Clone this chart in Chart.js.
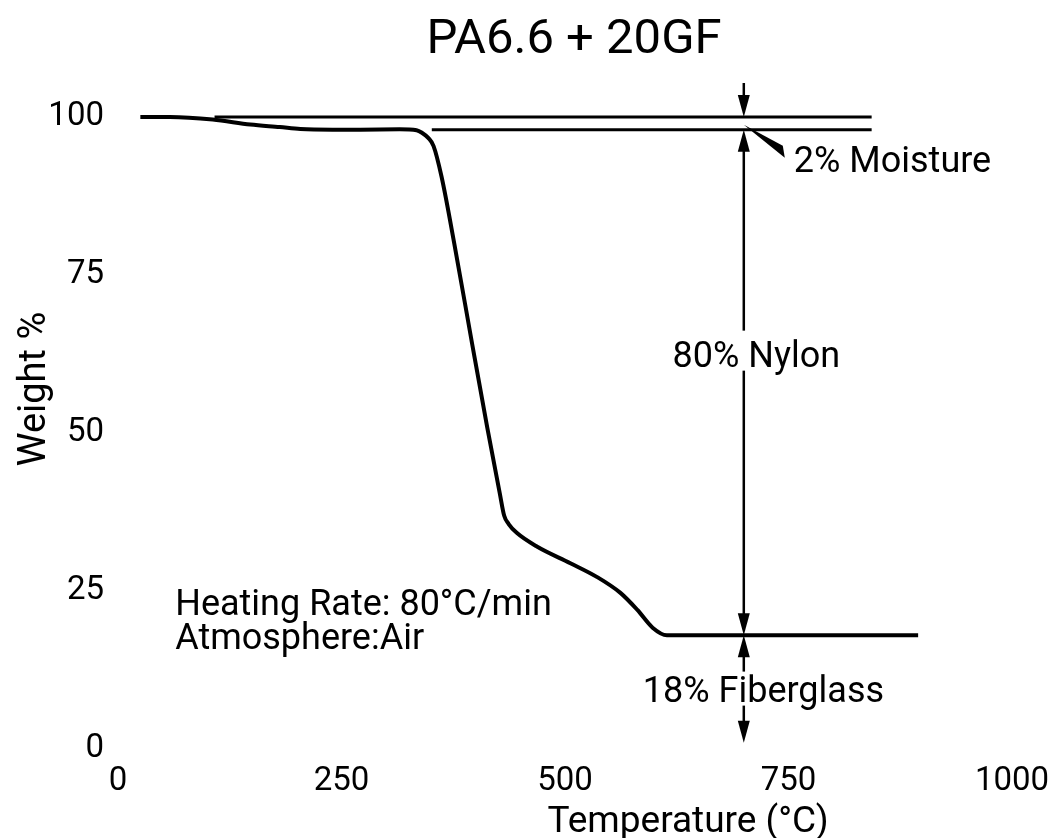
<!DOCTYPE html>
<html>
<head>
<meta charset="utf-8">
<script src="https://cdn.jsdelivr.net/npm/chart.js@4.4.0/dist/chart.umd.min.js"></script>
<style>
  html, body { margin: 0; padding: 0; background: #fff; }
</style>
</head>
<body>
<canvas id="chart" width="1050" height="838"></canvas>
<script>
// TGA trace of PA6.6 with 20% glass fibre, heated in air
let temperature = [25, 58, 106, 148, 181, 204, 240, 271, 315, 334, 340, 347, 353, 362, 376, 396, 413, 427, 432, 437, 446, 469, 506, 536, 562, 581, 598, 614, 895];
let weight = [100, 100, 99.6, 98.8, 98.4, 98.1, 98.0, 98.0, 98.05, 97.9, 97.5, 96.7, 95.4, 90.5, 80.1, 64.2, 50.9, 40.5, 36.9, 35.6, 34.2, 32.0, 29.4, 27.2, 24.7, 22.0, 19.2, 18.0, 18.0];

let xTicks = [0, 250, 500, 750, 1000];
let yTicks = [0, 25, 50, 75, 100];

// composition steps (weight %) and where they are marked
let dryLevel = 98;
let residueLevel = 18;
let markerTemp = 700;
let line100 = [108, 843];   // temperature span of the 100 % line
let line98 = [351, 843];    // temperature span of the 98 % line
let arrowBottom = 1;

let notes = [
  {text: 'Heating Rate: 80°C/min', x: 64, y: 21.2},
  {text: 'Atmosphere:Air', x: 64, y: 15.8}
];

const FONT = 'Roboto, "Open Sans", sans-serif';

function pts(xs, ys) {
  return xs.map((v, i) => ({x: v, y: ys[i]}));
}

function head(ctx, x, tip, dir) {
  // dir = 1 points down, -1 points up
  ctx.beginPath();
  ctx.moveTo(x, tip);
  ctx.lineTo(x - 6, tip - dir * 22);
  ctx.lineTo(x + 6, tip - dir * 22);
  ctx.closePath();
  ctx.fill();
}

function vline(ctx, x, y1, y2) {
  ctx.beginPath();
  ctx.moveTo(x, y1);
  ctx.lineTo(x, y2);
  ctx.stroke();
}

const annotate = {
  id: 'annotate',
  afterDraw(chart) {
    const {ctx, chartArea} = chart;
    const x = chart.scales.x, y = chart.scales.y;
    const ax = x.getPixelForValue(markerTemp);
    const y100 = y.getPixelForValue(100);
    const y98 = y.getPixelForValue(dryLevel);
    const y18 = y.getPixelForValue(residueLevel);
    const yEnd = y.getPixelForValue(arrowBottom);

    ctx.save();
    ctx.fillStyle = '#000';
    ctx.strokeStyle = '#000';
    ctx.lineWidth = 2.5;

    // moisture: small arrow down onto the 100 % line
    vline(ctx, ax, y100 - 34, y100 - 10);
    head(ctx, ax, y100, 1);

    // nylon: double arrow between 98 % and 18 %
    vline(ctx, ax, y98 + 10, y18 - 10);
    head(ctx, ax, y98, -1);
    head(ctx, ax, y18, 1);

    // fibreglass: double arrow below the residue line
    vline(ctx, ax, y18 + 10, yEnd - 10);
    head(ctx, ax, y18, -1);
    head(ctx, ax, yEnd, 1);

    // leader wedge to the moisture label
    ctx.beginPath();
    ctx.moveTo(ax, y98 - 5);
    ctx.lineTo(ax + 39, y98 + 16);
    ctx.lineTo(ax + 41, y98 + 28);
    ctx.closePath();
    ctx.fill();

    ctx.font = '36px ' + FONT;
    ctx.textBaseline = 'alphabetic';
    ctx.textAlign = 'left';
    ctx.fillText('2% Moisture', ax + 50, y98 + 42);

    // labels sitting on the arrow shaft, with a white gap behind them
    const nylon = '80% Nylon';
    const nyBase = y.getPixelForValue(60.5);
    const nyLeft = ax - ctx.measureText('80%').width - ctx.measureText(' ').width / 2;
    ctx.fillStyle = '#fff';
    ctx.fillRect(nyLeft, nyBase - 36, ctx.measureText(nylon).width, 40);
    ctx.fillStyle = '#000';
    ctx.fillText(nylon, nyLeft, nyBase);

    const glass = '18% Fiberglass';
    const glBase = y.getPixelForValue(7.5);
    const glLeft = ax - ctx.measureText('18% F').width - ctx.measureText('i').width / 2 - 1;
    ctx.fillStyle = '#fff';
    ctx.fillRect(glLeft, glBase - 30, ctx.measureText(glass).width, 34);
    ctx.fillStyle = '#000';
    ctx.fillText(glass, glLeft, glBase);

    // test conditions
    notes.forEach(n => ctx.fillText(n.text, x.getPixelForValue(n.x), y.getPixelForValue(n.y)));

    // title and axis titles
    ctx.textAlign = 'center';
    ctx.font = '49px ' + FONT;
    ctx.fillText('PA6.6 + 20GF', (chartArea.left + chartArea.right) / 2 + 9, 53);

    ctx.font = '37px ' + FONT;
    ctx.fillText('Temperature (°C)', 688, 832);

    ctx.translate(45, 389);
    ctx.rotate(-Math.PI / 2);
    ctx.font = '38px ' + FONT;
    ctx.fillText('Weight %', 0, 0);
    ctx.restore();
  }
};

let ctx = document.getElementById('chart');
new Chart(ctx, {
  type: 'scatter',
  data: {
    datasets: [
      {
        data: pts(temperature, weight),
        showLine: true,
        borderColor: '#000',
        borderWidth: 4,
        pointRadius: 0,
        cubicInterpolationMode: 'monotone',
        clip: false
      },
      {
        data: pts(line100, [100, 100]),
        showLine: true,
        borderColor: '#000',
        borderWidth: 3,
        pointRadius: 0,
        clip: false
      },
      {
        data: pts(line98, [dryLevel, dryLevel]),
        showLine: true,
        borderColor: '#000',
        borderWidth: 3,
        pointRadius: 0,
        clip: false
      }
    ]
  },
  options: {
    responsive: false,
    animation: false,
    layout: {padding: {top: 117, right: 38, left: 0, bottom: 0}},
    plugins: {
      legend: {display: false},
      tooltip: {enabled: false}
    },
    scales: {
      x: {
        type: 'linear',
        min: 0,
        max: 1000,
        grid: {display: false, drawTicks: false},
        border: {display: false},
        afterBuildTicks: s => { s.ticks = xTicks.map(v => ({value: v})); },
        // fixed height, and let the end labels hang past the plot edges
        afterFit: s => { s.height = 89; s.paddingLeft = 0; s.paddingRight = 0; },
        ticks: {
          font: {family: FONT, size: 33},
          color: '#000',
          padding: 13,
          maxRotation: 0,
          autoSkip: false,
          callback: v => String(v)
        }
      },
      y: {
        min: 0,
        max: 100,
        grid: {display: false, drawTicks: false},
        border: {display: false},
        afterBuildTicks: s => { s.ticks = yTicks.map(v => ({value: v})); },
        afterFit: s => { s.width = 118; s.paddingTop = 0; s.paddingBottom = 0; },
        ticks: {
          font: {family: FONT, size: 33},
          color: '#000',
          padding: 14,
          callback: v => String(v)
        }
      }
    }
  },
  plugins: [annotate]
});
</script>
</body>
</html>
